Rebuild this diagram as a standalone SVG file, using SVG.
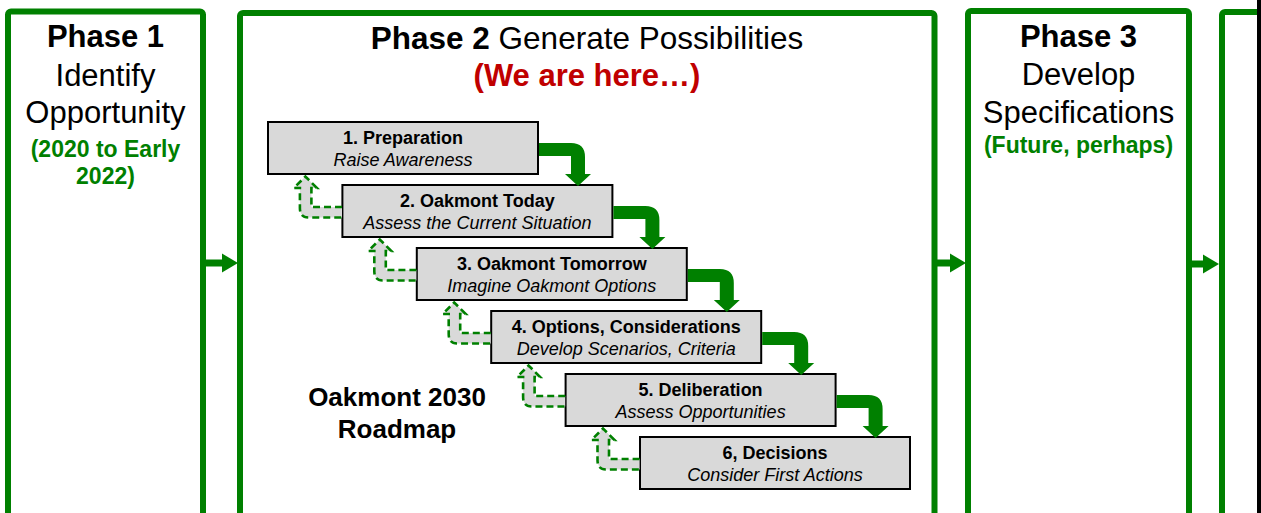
<svg xmlns="http://www.w3.org/2000/svg" xmlns:xlink="http://www.w3.org/1999/xlink" width="1261" height="513" viewBox="0 0 1261 513">
<style>
.panel{fill:#fff;stroke:#008000;stroke-width:6}
.box{fill:#d9d9d9;stroke:#000;stroke-width:2}
.t{font-family:"Liberation Sans",Arial,sans-serif;text-anchor:middle}
.ph{font-size:31px;fill:#000}
.b{font-weight:bold}
.grn{font-size:23px;font-weight:bold;fill:#008000}
.red{font-size:31px;font-weight:bold;fill:#c00000}
.st{font-size:18px;fill:#000}
.it{font-style:italic}
.rm{font-size:26px;font-weight:bold;fill:#000}
.fwd{fill:#008000}
.back{fill:#d9d9d9;stroke:#008000;stroke-width:2.6;stroke-dasharray:7 4}
.parr{stroke:#008000;stroke-width:7;fill:none}
.phead{fill:#008000}
</style>
<defs>
<path id="fwd" class="fwd" d="M271,21 L303,21 Q317,21 317,35 L317,52 L323,52 L310,64 L297,52 L303,52 L303,34 L271,34 Z"/>
<path id="back" class="back" d="M74,85 L43.4,85 L43.4,66 L48.9,66 L37.4,54.5 L25.9,66 L31.9,66 L31.9,86 Q31.9,95.5 40.4,95.5 L74,95.5"/>
</defs>
<rect width="1261" height="513" fill="#fff"/>

<g id="phase1">
<rect class="panel" x="8" y="11.5" width="195" height="505" rx="3"/>
<text class="t ph b" x="105.5" y="47">Phase 1</text>
<text class="t ph" x="105.5" y="86">Identify</text>
<text class="t ph" x="105.5" y="123">Opportunity</text>
<text class="t grn" x="105.5" y="157">(2020 to Early</text>
<text class="t grn" x="105.5" y="184">2022)</text>
</g>

<g id="phase2">
<rect class="panel" x="240" y="13" width="694.5" height="503" rx="3"/>
<text class="t ph" x="587" y="49" style="font-size:31.5px"><tspan class="b">Phase 2</tspan> Generate Possibilities</text>
<text class="t red" x="587" y="86">(We are here…)</text>
</g>

<g id="phase3">
<rect class="panel" x="968" y="11" width="221" height="505" rx="3"/>
<text class="t ph b" x="1078.5" y="47">Phase 3</text>
<text class="t ph" x="1078.5" y="85">Develop</text>
<text class="t ph" x="1078.5" y="123">Specifications</text>
<text class="t grn" x="1078.5" y="153">(Future, perhaps)</text>
</g>

<g id="phase4">
<rect class="panel" x="1222" y="12" width="100" height="505" rx="3"/>
</g>
<rect x="1257" y="0" width="4" height="513" fill="#000"/>

<g id="step1" transform="translate(268,122)">
<rect class="box" x="0" y="0" width="270" height="52"/>
<text class="t st b" x="135" y="22">1. Preparation</text>
<text class="t st it" x="135" y="43.5">Raise Awareness</text>
</g>
<g id="step2" transform="translate(342.4,185)">
<rect class="box" x="0" y="0" width="270" height="52"/>
<text class="t st b" x="135" y="22">2. Oakmont Today</text>
<text class="t st it" x="135" y="43.5">Assess the Current Situation</text>
</g>
<g id="step3" transform="translate(416.8,248)">
<rect class="box" x="0" y="0" width="270" height="52"/>
<text class="t st b" x="135" y="22">3. Oakmont Tomorrow</text>
<text class="t st it" x="135" y="43.5">Imagine Oakmont Options</text>
</g>
<g id="step4" transform="translate(491.2,311)">
<rect class="box" x="0" y="0" width="270" height="52"/>
<text class="t st b" x="135" y="22">4. Options, Considerations</text>
<text class="t st it" x="135" y="43.5">Develop Scenarios, Criteria</text>
</g>
<g id="step5" transform="translate(565.6,374)">
<rect class="box" x="0" y="0" width="270" height="52"/>
<text class="t st b" x="135" y="22">5. Deliberation</text>
<text class="t st it" x="135" y="43.5">Assess Opportunities</text>
</g>
<g id="step6" transform="translate(640,437)">
<rect class="box" x="0" y="0" width="270" height="52"/>
<text class="t st b" x="135" y="22">6, Decisions</text>
<text class="t st it" x="135" y="43.5">Consider First Actions</text>
</g>

<g id="roadmap-label">
<text class="t rm" x="397" y="406">Oakmont 2030</text>
<text class="t rm" x="397" y="438">Roadmap</text>
</g>

<g id="connectors">
<line class="parr" x1="206" y1="263" x2="224" y2="263"/>
<polygon class="phead" points="222,253.5 238,263 222,272.5"/>
<line class="parr" x1="937" y1="263" x2="952" y2="263"/>
<polygon class="phead" points="950,253.5 966,263 950,272.5"/>
<line class="parr" x1="1192" y1="264" x2="1205" y2="264"/>
<polygon class="phead" points="1203,254.5 1219,264 1203,273.5"/>

<use xlink:href="#fwd" transform="translate(268,122)"/>
<use xlink:href="#fwd" transform="translate(342.4,185)"/>
<use xlink:href="#fwd" transform="translate(416.8,248)"/>
<use xlink:href="#fwd" transform="translate(491.2,311)"/>
<use xlink:href="#fwd" transform="translate(565.6,374)"/>

<use xlink:href="#back" transform="translate(268,122)"/>
<use xlink:href="#back" transform="translate(342.4,185)"/>
<use xlink:href="#back" transform="translate(416.8,248)"/>
<use xlink:href="#back" transform="translate(491.2,311)"/>
<use xlink:href="#back" transform="translate(565.6,374)"/>
</g>
</svg>
